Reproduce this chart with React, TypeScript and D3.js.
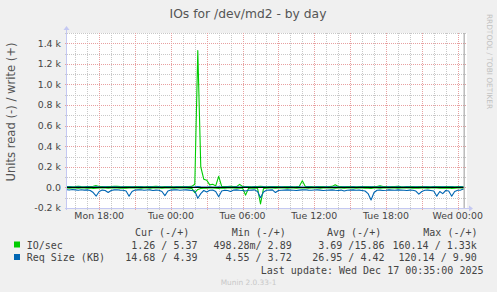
import React from "react";
import * as d3 from "d3";

// sample spacing: 15 minutes, first sample at Mon 15:15 (hours relative to Tue 00:00)
const firstSampleHour = -8.75;
const sampleStepHours = 0.25;

// IO/sec read (drawn negative)
const ioRead = [
  6, 7, 5, 6, 8, 6, 5, 7, 6, 9,
  7, 6, 5, 6, 7, 6, 5, 6, 8, 6,
  7, 6, 5, 6, 6, 7, 5, 6, 7, 6,
  5, 6, 7, 6, 5, 6, 7, 6, 5, 6,
  6, 7, 9, 50, 20, 10, 8, 7, 6, 6,
  7, 9, 6, 7, 6, 5, 6, 7, 6, 8,
  75, 9, 6, 7, 8, 160, 11, 7, 6, 6,
  7, 6, 5, 6, 7, 6, 6, 7, 5, 6,
  6, 7, 6, 5, 6, 7, 6, 6, 5, 6,
  7, 6, 6, 7, 5, 6, 6, 7, 6, 6,
  7, 8, 9, 6, 6, 7, 6, 5, 6, 6,
  6, 7, 6, 5, 6, 6, 7, 6, 8, 6,
  6, 7, 6, 5, 6, 7, 8, 7, 6, 9,
  7, 6, 6, 5,
];
// IO/sec write (drawn positive)
const ioWrite = [
  8, 9, 7, 8, 10, 8, 7, 9, 8, 12,
  17, 9, 8, 7, 9, 8, 12, 10, 8, 7,
  9, 8, 7, 8, 9, 8, 7, 8, 9, 8,
  10, 8, 7, 8, 9, 8, 7, 9, 8, 9,
  8, 9, 10, 30, 1330, 200, 80, 70, 25, 30,
  15, 107, 10, 9, 8, 12, 9, 8, 30, 9,
  8, 9, 7, 8, 9, 10, 8, 7, 9, 8,
  8, 9, 7, 8, 9, 8, 7, 8, 12, 65,
  10, 8, 9, 7, 8, 9, 8, 7, 9, 10,
  25, 9, 8, 7, 8, 9, 8, 7, 8, 9,
  8, 9, 7, 8, 9, 15, 9, 8, 7, 8,
  9, 12, 8, 7, 8, 9, 8, 7, 9, 8,
  8, 9, 7, 8, 9, 8, 7, 8, 9, 8,
  7, 8, 8, 5.37,
];
// Req Size (KB) read (drawn negative)
const reqRead = [
  22, 25, 20, 24, 28, 22, 26, 24, 30, 50,
  84, 40, 26, 30, 50, 30, 24, 22, 26, 28,
  35, 85, 40, 26, 24, 22, 28, 25, 24, 30,
  26, 28, 40, 80, 35, 26, 24, 22, 28, 25,
  24, 26, 30, 35, 105, 60, 30, 45, 28, 26,
  40, 90, 35, 28, 30, 40, 26, 24, 28, 30,
  35, 28, 26, 24, 40, 100, 45, 28, 26, 24,
  50, 30, 28, 26, 24, 26, 28, 30, 26, 24,
  22, 26, 28, 25, 24, 26, 30, 28, 26, 24,
  28, 30, 26, 35, 28, 26, 24, 28, 26, 30,
  35, 60, 122, 50, 28, 26, 30, 28, 24, 26,
  28, 24, 26, 28, 30, 26, 28, 35, 65, 40,
  28, 26, 30, 35, 85, 40, 60, 30, 35, 85,
  40, 28, 26, 14.68,
];
// Req Size (KB) write (drawn positive)
const reqWrite = [
  4, 5, 4, 4, 5, 4, 4, 5, 4, 4,
  5, 4, 4, 5, 4, 4, 5, 4, 4, 5,
  4, 4, 5, 4, 4, 5, 4, 4, 5, 4,
  4, 5, 4, 4, 5, 4, 4, 5, 4, 4,
  5, 4, 4, 6, 9, 5, 4, 4, 5, 4,
  4, 5, 4, 4, 5, 4, 4, 5, 4, 4,
  5, 4, 4, 5, 4, 4, 5, 4, 4, 5,
  4, 4, 5, 4, 4, 5, 4, 4, 5, 4,
  4, 5, 4, 4, 5, 4, 4, 5, 4, 4,
  5, 4, 4, 5, 4, 4, 5, 4, 4, 5,
  4, 4, 5, 4, 4, 5, 4, 4, 5, 4,
  4, 5, 4, 4, 5, 4, 4, 5, 4, 4,
  5, 4, 4, 5, 4, 4, 5, 4, 4, 5,
  4, 4, 5, 4.39,
];

const xTickHours = [-6, 0, 6, 12, 18, 24];
const xTickLabels = ["Mon 18:00", "Tue 00:00", "Tue 06:00", "Tue 12:00", "Tue 18:00", "Wed 00:00"];
const yTickValues = [-200, 0, 200, 400, 600, 800, 1000, 1200, 1400];
const yTickLabels = ["-0.2 k", "0.0", "0.2 k", "0.4 k", "0.6 k", "0.8 k", "1.0 k", "1.2 k", "1.4 k"];

const legendNames = ["IO/sec", "Req Size (KB)"];
const legendColors = ["#00cc00", "#0066b3"];
const legendHeaders = ["Cur (-/+)", "Min (-/+)", "Avg (-/+)", "Max (-/+)"];
const curValues = ["1.26 / 5.37", "14.68 / 4.39"];
const minValues = ["498.28m/ 2.89", "4.55 / 3.72"];
const avgValues = ["3.69 /15.86", "26.95 / 4.42"];
const maxValues = ["160.14 / 1.33k", "120.14 / 9.90"];

const W = 497;
const H = 292;
const PL = 67, PR = 467, PT = 33, PB = 208;

export default function App() {
  const x = d3.scaleLinear().domain([-8.695, 24.78]).range([PL, PR]);
  const y = d3.scaleLinear().domain([-200, 1500]).range([PB, PT]);
  const hours = ioRead.map((_, i) => firstSampleHour + i * sampleStepHours);

  const mk = (vals: number[], sign: number) =>
    d3.line<number>().x((_, i) => x(hours[i])).y((v) => y(sign * v))(vals) || "";

  const minorHours = d3.range(-8, 25).filter((h) => h % 3 !== 0);
  const majorHours = d3.range(-6, 25, 3);
  const minorY = d3.range(-100, 1501, 200);
  const majorY = d3.range(0, 1401, 200);

  const sans = "'DejaVu Sans', Verdana, sans-serif";
  const mono = "'DejaVu Sans Mono', monospace";
  const txt = "#444";
  const axisCol = "#c4c8f2";

  const headerX = [135, 231.7, 327, 423.3];
  const colEnd = [197.5, 291.7, 384.5, 476.8];
  const cols = [curValues, minValues, avgValues, maxValues];
  const rowY = [248.5, 261];
  const lastX = x(hours[hours.length - 1]);

  return (
    <svg width={W} height={H} style={{ position: "fixed", left: 0, top: 0, background: "#f0f0f0" }}>
      <rect x={0} y={0} width={W} height={H} fill="#f0f0f0" />
      <rect x={PL} y={PT} width={PR - PL} height={PB - PT} fill="#ffffff" />
      <defs>
        <clipPath id="plotclip">
          <rect x={PL} y={PT - 2} width={PR - PL} height={PB - PT + 2} />
        </clipPath>
      </defs>
      {/* minor grid */}
      <g stroke="#c8c8c8" strokeWidth={1} strokeDasharray="1,1">
        {minorHours.map((h) => (
          <line key={"mv" + h} x1={Math.round(x(h)) + 0.5} x2={Math.round(x(h)) + 0.5} y1={PT} y2={PB + 2} />
        ))}
        {minorY.map((v) => (
          <line key={"mh" + v} x1={PL - 2} x2={PR} y1={Math.round(y(v)) + 0.5} y2={Math.round(y(v)) + 0.5} />
        ))}
      </g>
      {/* major grid */}
      <g stroke="#e8a0a0" strokeWidth={1} strokeDasharray="1,1">
        {majorHours.map((h) => (
          <line key={"Mv" + h} x1={Math.round(x(h)) + 0.5} x2={Math.round(x(h)) + 0.5} y1={PT} y2={PB + 2} />
        ))}
        {majorY.map((v) => (
          <line key={"Mh" + v} x1={PL - 2} x2={PR} y1={Math.round(y(v)) + 0.5} y2={Math.round(y(v)) + 0.5} />
        ))}
      </g>
      {/* data */}
      <g clipPath="url(#plotclip)" fill="none" strokeWidth={1.1} strokeLinejoin="round">
        <path d={mk(ioRead, -1)} stroke={legendColors[0]} />
        <path d={mk(ioWrite, 1)} stroke={legendColors[0]} />
        <path d={mk(reqRead, -1)} stroke={legendColors[1]} />
        <path d={mk(reqWrite, 1)} stroke={legendColors[1]} />
      </g>
      {/* zero line */}
      <line x1={PL} x2={lastX} y1={Math.round(y(0)) + 0.5} y2={Math.round(y(0)) + 0.5} stroke="#000" strokeWidth={1} />
      {/* now line */}
      <line x1={lastX + 0.5} x2={lastX + 0.5} y1={PT} y2={PB} stroke="#999" strokeWidth={1} />
      {/* axes */}
      <line x1={PL - 0.5} x2={PL - 0.5} y1={PB + 2} y2={PT - 4} stroke={axisCol} strokeWidth={1} />
      <path d={`M${PL - 3.5},${PT - 3} L${PL - 0.5},${PT - 7} L${PL + 2.5},${PT - 3} Z`} fill={axisCol} />
      <line x1={PL - 2} x2={PR + 2} y1={PB + 0.5} y2={PB + 0.5} stroke={axisCol} strokeWidth={1} />
      <path d={`M${PR + 2},${PB - 2.5} L${PR + 6},${PB + 0.5} L${PR + 2},${PB + 3.5} Z`} fill={axisCol} />
      {/* y tick labels */}
      <g fontFamily={sans} fontSize={9.4} fill={txt} textAnchor="end">
        {yTickValues.map((v, i) => (
          <text key={"yt" + v} x={PL - 6} y={y(v) + 3.4}>{yTickLabels[i]}</text>
        ))}
      </g>
      {/* x tick labels */}
      <g fontFamily={sans} fontSize={9.4} fill={txt} textAnchor="middle">
        {xTickHours.map((h, i) => (
          <text key={"xt" + h} x={x(h)} y={PB + 11}>{xTickLabels[i]}</text>
        ))}
      </g>
      {/* title */}
      <text x={248} y={18} fontFamily={sans} fontSize={12.3} fill="#555" textAnchor="middle">IOs for /dev/md2 - by day</text>
      {/* y label */}
      <text transform={`translate(14.5,${(PT + PB) / 2 - 8.5}) rotate(-90)`} fontFamily={sans} fontSize={11.6} fill="#555" textAnchor="middle">Units read (-) / write (+)</text>
      {/* watermark */}
      <text transform="translate(486.5,61.5) rotate(90)" fontFamily={sans} fontSize={7.4} fill="#c0c0c0" textAnchor="middle">RRDTOOL / TOBI OETIKER</text>
      {/* legend */}
      <g fontFamily={mono} fontSize={10} fill={txt} style={{ whiteSpace: "pre" }}>
        {legendHeaders.map((hd, i) => (
          <text key={"hd" + i} x={headerX[i]} y={236}>{hd}</text>
        ))}
        {legendNames.map((n, r) => (
          <g key={"row" + r}>
            <rect x={14} y={rowY[r] - 7} width={6} height={6} fill={legendColors[r]} />
            <text x={26.7} y={rowY[r]}>{n}</text>
            {cols.map((c, ci) => (
              <text key={"c" + ci} x={colEnd[ci]} y={rowY[r]} textAnchor="end">{c[r]}</text>
            ))}
          </g>
        ))}
        <text x={483.5} y={273.5} textAnchor="end">Last update: Wed Dec 17 00:35:00 2025</text>
      </g>
      <text x={248.5} y={284.5} fontFamily={sans} fontSize={7.4} fill="#c8c8c8" textAnchor="middle">Munin 2.0.33-1</text>
    </svg>
  );
}
